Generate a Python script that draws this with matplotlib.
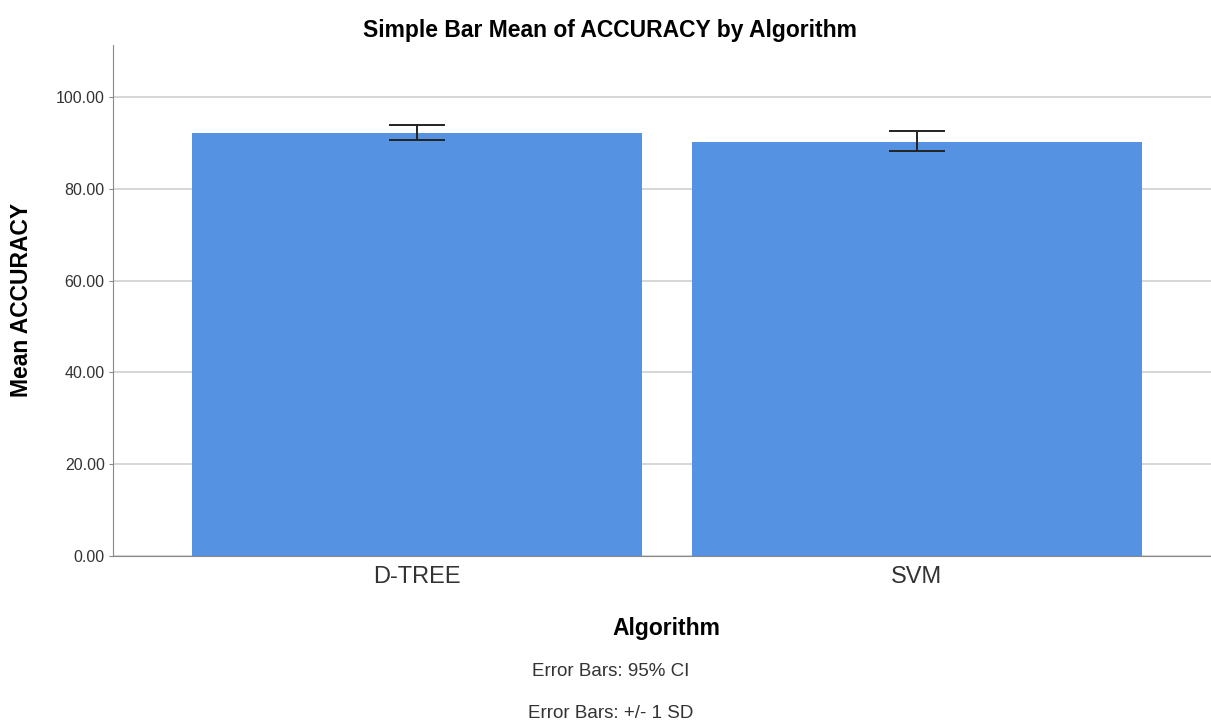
import matplotlib.pyplot as plt

plt.rcParams['font.family'] = ['Liberation Sans', 'DejaVu Sans']

algorithms = ["D-TREE", "SVM"]
mean_accuracy = [92.1, 90.1]
err_low = [90.7, 88.2]
err_high = [93.8, 92.5]
yticks = [0, 20, 40, 60, 80, 100]

fig = plt.figure(figsize=(12.11, 7.22), dpi=100)
ax = fig.add_axes([0.0933, 0.2299, 0.9067, 0.7078])

x = list(range(len(algorithms)))
yerr = [[m - lo for m, lo in zip(mean_accuracy, err_low)],
        [hi - m for m, hi in zip(mean_accuracy, err_high)]]

ax.yaxis.grid(True, color='#d0d0d0', linewidth=1.2)
ax.set_axisbelow(True)
ax.bar(x, mean_accuracy, width=0.9, color='#5592e2', zorder=2)
ax.errorbar(x, mean_accuracy, yerr=yerr, fmt='none', ecolor='#222222',
            elinewidth=1.4, capsize=20.5, capthick=1.4, zorder=3)

ax.set_xlim(-0.608, 1.588)
ax.set_ylim(0, 111.3)
ax.set_yticks(yticks)
ax.set_yticklabels([f"{v:.2f}" for v in yticks], fontsize=11.5, color='#333333')
ax.set_xticks(x)
ax.set_xticklabels(algorithms, fontsize=17, color='#333333')
ax.tick_params(axis='x', length=0, pad=7)
ax.tick_params(axis='y', length=3, color='#888888', pad=3)

for s in ['top', 'right']:
    ax.spines[s].set_visible(False)
ax.spines['left'].set_color('#888888')
ax.spines['bottom'].set_color('#888888')

# axis titles placed as in the original SPSS output
fig.text(22 / 1211, 1 - 300 / 722, "Mean ACCURACY", rotation=90, ha='center',
         va='center', fontsize=16.5, fontweight='bold')
fig.text(666 / 1211, 1 - 628 / 722, "Algorithm", ha='center', va='center',
         fontsize=16.5, fontweight='bold')

fig.text(610 / 1211, 1 - 30 / 722, "Simple Bar Mean of ACCURACY by Algorithm",
         ha='center', va='center', fontsize=16.5, fontweight='bold')
fig.text(611 / 1211, 1 - 672 / 722, "Error Bars: 95% CI", ha='center', va='center',
         fontsize=13.5, color='#333333')
fig.text(611 / 1211, 1 - 713 / 722, "Error Bars: +/- 1 SD", ha='center', va='center',
         fontsize=13.5, color='#333333')

fig.savefig("out.png", dpi=100)
